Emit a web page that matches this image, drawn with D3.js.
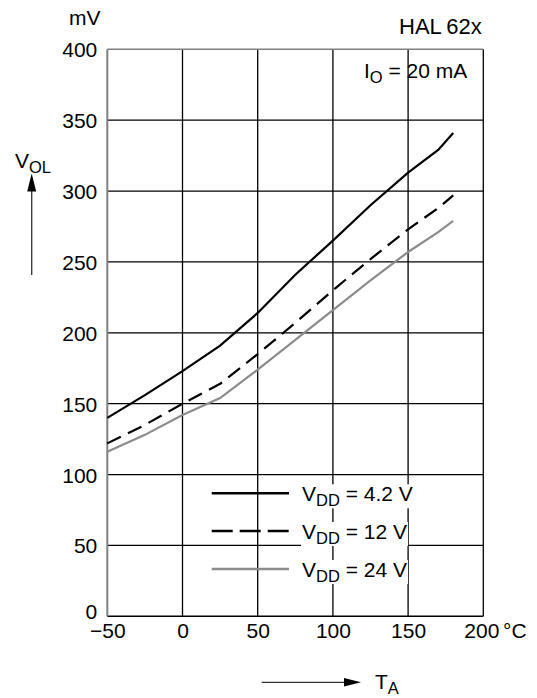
<!DOCTYPE html>
<html><head><meta charset="utf-8">
<script src="https://d3js.org/d3.v7.min.js"></script>
<style>
body{margin:0;background:#fff;}
text{font-family:"Liberation Sans",Arial,Helvetica,sans-serif;fill:#000;}
</style></head>
<body><svg id="c" width="537" height="698"></svg>
<script>
// ---- data ----
const temps = [-50, -25, 0, 25, 50, 75, 100, 125, 150, 170, 180];
const vdd42 = [140, 156, 173, 191, 214, 241, 265, 290, 313, 329, 341];
const vdd12 = [122, 135, 150, 164, 185, 207, 230, 252, 273, 288, 297];
const vdd24 = [116, 128, 142, 154, 174, 195, 216, 237, 257, 271, 279];
const xTicks = [-50, 0, 50, 100, 150, 200];
const xTickLabels = ["\u221250", "0", "50", "100", "150", "200"];
const yTicks = [0, 50, 100, 150, 200, 250, 300, 350, 400];
const seriesNames = ["4.2 V", "12 V", "24 V"];

const svg = d3.select("#c");
const L = 107.3, R = 483.3, T = 49.3, B = 616.3;
const x = d3.scaleLinear().domain([-50, 200]).range([L, R]);
const y = d3.scaleLinear().domain([0, 400]).range([B, T]);
const FS = 21, SUB = 16.5;

// grid
const g = svg.append("g");
g.selectAll("line.v").data(xTicks.slice(1, -1)).enter().append("line")
  .attr("x1", d => x(d)).attr("x2", d => x(d)).attr("y1", T).attr("y2", B)
  .attr("stroke", "#000").attr("stroke-width", 1.3);
g.selectAll("line.h").data(yTicks.slice(1, -1)).enter().append("line")
  .attr("x1", L).attr("x2", R).attr("y1", d => y(d)).attr("y2", d => y(d))
  .attr("stroke", "#000").attr("stroke-width", 1.3);
// borders
g.append("line").attr("x1", L).attr("x2", R).attr("y1", B).attr("y2", B).attr("stroke", "#000").attr("stroke-width", 1.5);
g.append("line").attr("x1", R).attr("x2", R).attr("y1", T).attr("y2", B).attr("stroke", "#000").attr("stroke-width", 1.3);
g.append("line").attr("x1", L).attr("x2", R).attr("y1", T).attr("y2", T).attr("stroke", "#808080").attr("stroke-width", 1.5);
g.append("line").attr("x1", L).attr("x2", L).attr("y1", T).attr("y2", B).attr("stroke", "#808080").attr("stroke-width", 2);

// axes labels via d3 axes
const xAxis = d3.axisBottom(x).tickValues(xTicks).tickSize(0).tickPadding(0)
  .tickFormat((d, i) => xTickLabels[i]);
const xa = svg.append("g").attr("transform", `translate(0,${B})`).call(xAxis);
xa.select(".domain").remove();
xa.selectAll("text").attr("font-size", FS).attr("font-family", null).attr("fill", "#000")
  .attr("dy", null).attr("y", 22);
xa.selectAll(".tick").filter(d => d === 200).select("text").attr("dx", -2);
const yAxis = d3.axisLeft(y).tickValues(yTicks).tickSize(0).tickPadding(10);
const ya = svg.append("g").attr("transform", `translate(${L},0)`).call(yAxis);
ya.select(".domain").remove();
ya.selectAll("text").attr("font-size", FS).attr("font-family", null).attr("fill", "#000")
  .attr("dy", "0.36em");
ya.selectAll(".tick").filter(d => d === 0).select("text").attr("dy", "0.1em");

// curves
const line = d3.line().x(d => x(d[0])).y(d => y(d[1]));
const series = [
  {vals: vdd42, color: "#000", dash: null},
  {vals: vdd12, color: "#000", dash: "15,8"},
  {vals: vdd24, color: "#8c8c8c", dash: null}
];
series.forEach(s => {
  svg.append("path").datum(temps.map((t, i) => [t, s.vals[i]]))
    .attr("d", line).attr("fill", "none").attr("stroke", s.color)
    .attr("stroke-width", 2.2).attr("stroke-dasharray", s.dash);
});

// legend
const legY = [493.3, 531, 569];
series.forEach((s, i) => {
  svg.append("line").attr("x1", 211.7).attr("x2", 289).attr("y1", legY[i]).attr("y2", legY[i])
    .attr("stroke", s.color).attr("stroke-width", 2.4)
    .attr("stroke-dasharray", s.dash ? "21,7" : null);
  const bg = svg.append("rect").attr("fill", "#fff");
  const t = svg.append("text").attr("x", 302).attr("y", legY[i] + 8).attr("font-size", FS);
  t.append("tspan").text("V");
  t.append("tspan").attr("font-size", SUB).attr("dy", 5).text("DD");
  t.append("tspan").attr("dy", -5).text(" = " + seriesNames[i]);
  const bb = t.node().getBBox();
  bg.attr("x", bb.x - 1).attr("y", legY[i] - 9)
    .attr("width", bb.width + 2).attr("height", 24);
});

// labels
svg.append("text").attr("x", 69).attr("y", 25).attr("font-size", FS).text("mV");
svg.append("text").attr("x", 399).attr("y", 34).attr("font-size", 22).text("HAL\u200962x");
const io = svg.append("text").attr("x", 364).attr("y", 78).attr("font-size", FS);
io.append("tspan").text("I");
io.append("tspan").attr("font-size", SUB).attr("dy", 5).text("O");
io.append("tspan").attr("dy", -5).text(" = 20 mA");
svg.append("text").attr("x", 503).attr("y", 638.3).attr("font-size", FS).text("\u00B0C");

const vol = svg.append("text").attr("x", 15).attr("y", 168).attr("font-size", FS);
vol.append("tspan").text("V");
vol.append("tspan").attr("font-size", SUB).attr("dy", 5).text("OL");
const ta = svg.append("text").attr("x", 375).attr("y", 689).attr("font-size", FS);
ta.append("tspan").text("T");
ta.append("tspan").attr("font-size", SUB).attr("dy", 5).text("A");

// arrows
svg.append("line").attr("x1", 31.7).attr("x2", 31.7).attr("y1", 275).attr("y2", 186).attr("stroke", "#333").attr("stroke-width", 1.3);
svg.append("path").attr("d", "M31.7,173.5 L27.2,191.5 L36.2,191.5 Z").attr("fill", "#000");
svg.append("line").attr("x1", 261.7).attr("x2", 350).attr("y1", 682.3).attr("y2", 682.3).attr("stroke", "#333").attr("stroke-width", 1.3);
svg.append("path").attr("d", "M361,682.3 L344,678 L344,686.6 Z").attr("fill", "#000");
</script></body></html>
